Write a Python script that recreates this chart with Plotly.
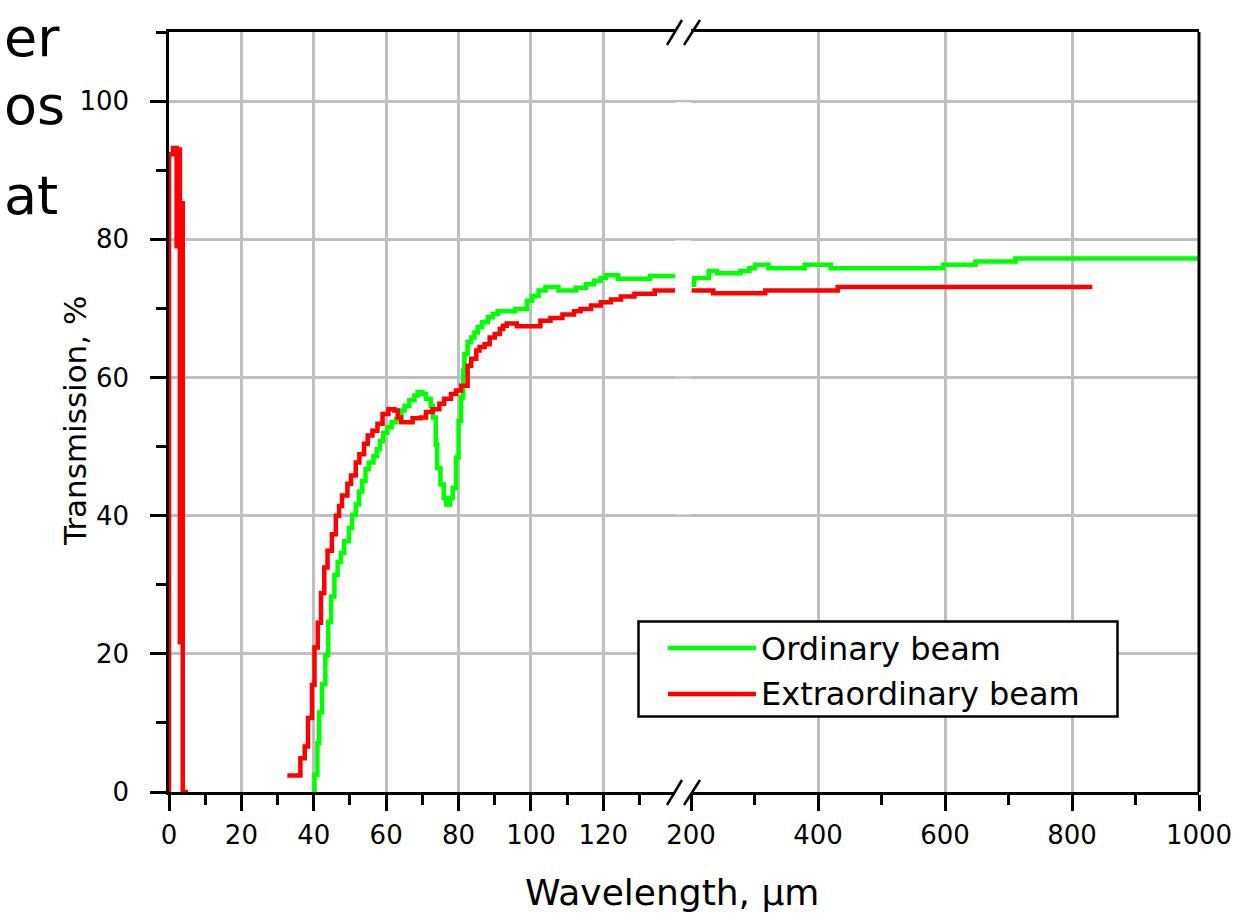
import plotly.graph_objects as go

# ---------------- data ----------------
x_left_ticks = [0, 20, 40, 60, 80, 100, 120]
x_right_ticks = [200, 400, 600, 800, 1000]
y_ticks = [0, 20, 40, 60, 80, 100]

# Ordinary beam (green)
ordinary_left_x = [40.0, 40.2, 41.0, 41.5, 42.3, 43.2, 44.0, 44.8, 45.7, 46.6, 47.5, 48.4, 49.7,
                   50.6, 51.6, 52.5, 53.4, 54.3, 55.2, 56.5, 57.4, 58.3, 59.2, 60.3, 61.5, 62.7,
                   64.2, 65.1, 66.4, 67.8, 68.7, 70.0, 71.0, 72.3, 72.9, 73.7, 74.1, 75.0, 75.9,
                   76.6, 77.7, 78.4, 79.3, 80.0, 80.7, 81.3, 81.6, 82.5, 83.5, 84.4, 85.3, 86.5,
                   88.1, 89.5, 90.8, 95.6, 98.9, 100.3, 102.1, 104.0, 107.6, 112.4, 115.2, 117.4,
                   119.3, 120.7, 124.0, 132.9, 139.8]
ordinary_left_y = [0.0, 2.5, 7.1, 11.5, 15.6, 19.8, 24.6, 28.3, 31.4, 33.3, 34.6, 36.3, 38.2,
                   40.1, 41.6, 43.5, 45.0, 46.7, 47.7, 48.6, 49.6, 50.8, 52.0, 52.8, 53.5, 54.0,
                   55.2, 55.9, 56.7, 57.4, 57.9, 57.6, 56.9, 55.9, 54.2, 50.3, 46.9, 44.5, 42.6,
                   41.6, 42.6, 44.0, 48.4, 53.7, 57.1, 61.0, 63.4, 65.1, 65.8, 66.5, 67.3, 68.0,
                   68.7, 69.2, 69.6, 69.9, 71.1, 71.8, 72.6, 73.1, 72.6, 73.0, 73.5, 74.0,
                   74.4, 74.8, 74.3, 74.7, 74.7]
ordinary_right_x = [201, 205, 228, 241, 278, 292, 301, 322, 379, 420, 597, 648, 711, 1000]
ordinary_right_y = [73.4, 74.4, 75.4, 75.1, 75.4, 75.8, 76.3, 75.8, 76.3, 75.8, 76.3, 76.8, 77.2, 77.2]

# Extraordinary beam (red)
extra_spike_x = [0, 0, 1.1, 2.1, 2.5, 3.0, 3.5, 3.8, 5.3]
extra_spike_y = [0, 92.3, 93.2, 79.0, 93.0, 21.7, 85.2, 0, 0]
extra_left_x = [32.7, 36.3, 37.5, 38.4, 39.5, 40.2, 41.1, 42.0, 42.9, 43.8, 45.0, 46.1, 47.0,
                47.8, 49.3, 50.3, 51.6, 52.6, 53.9, 54.9, 56.2, 57.6, 59.0, 60.6, 62.3, 63.2,
                64.1, 67.3, 69.6, 71.0, 72.8, 74.7, 76.0, 77.9, 79.3, 80.7, 82.5, 83.5, 84.9,
                85.8, 87.2, 88.6, 90.0, 91.4, 92.3, 93.3, 96.1, 102.6, 105.4, 108.7, 111.9,
                113.7, 116.6, 119.3, 122.1, 124.9, 128.6, 134.2, 139.8]
extra_left_y = [2.4, 4.9, 6.6, 10.7, 15.5, 20.9, 24.5, 28.8, 32.5, 34.9, 37.3, 40.0, 41.4,
                42.9, 44.6, 45.8, 47.7, 48.9, 50.4, 51.6, 52.3, 53.3, 54.7, 55.4, 55.2, 54.2,
                53.5, 54.1, 54.2, 55.0, 55.4, 56.2, 56.9, 57.6, 58.1, 58.8, 61.7, 62.7, 63.9,
                64.4, 64.8, 65.8, 66.3, 67.0, 67.5, 67.8, 67.4, 68.2, 68.6, 69.1, 69.6,
                69.9, 70.4, 70.9, 71.3, 71.7, 72.1, 72.6, 72.6]
extra_right_x = [201, 235, 317, 431, 832]
extra_right_y = [72.6, 72.2, 72.6, 73.1, 73.1]

# ---------------- geometry helpers (pixel -> paper) ----------------
W_FIG, H_FIG = 1251, 921
L, R, T, B = 169, 1199, 32, 792
PW, PH = R - L, B - T


def pxx(x):
    return (x - L) / PW


def pxy(y):
    return (B - y) / PH


GREEN = "#00ff00"
RED = "#ff0000"
GRID = "#bfbfbf"
FONT = "DejaVu Sans"
LW = 4.5

fig = go.Figure()

fig.add_trace(go.Scatter(x=ordinary_left_x, y=ordinary_left_y, xaxis="x", yaxis="y",
                         mode="lines", line=dict(color=GREEN, width=LW, shape="hv"),
                         name="Ordinary beam", showlegend=False))
fig.add_trace(go.Scatter(x=ordinary_right_x, y=ordinary_right_y, xaxis="x2", yaxis="y",
                         mode="lines", line=dict(color=GREEN, width=LW, shape="hv"),
                         name="Ordinary beam", showlegend=False))
fig.add_trace(go.Scatter(x=extra_spike_x + [None] + extra_left_x,
                         y=extra_spike_y + [None] + extra_left_y, xaxis="x", yaxis="y",
                         mode="lines", line=dict(color=RED, width=LW, shape="hv"),
                         connectgaps=False, name="Extraordinary beam", showlegend=False))
fig.add_trace(go.Scatter(x=extra_right_x, y=extra_right_y, xaxis="x2", yaxis="y",
                         mode="lines", line=dict(color=RED, width=LW, shape="hv"),
                         name="Extraordinary beam", showlegend=False))

tickfont = dict(family=FONT, size=26, color="black")
x_split_left = pxx(675)
x_split_right = pxx(691)

common_x = dict(showline=True, linecolor="black", linewidth=2.5, mirror=True,
                ticks="outside", ticklen=16, tickwidth=2.5, tickcolor="black",
                showgrid=True, gridcolor=GRID, gridwidth=2.5, zeroline=False,
                tickfont=tickfont, ticklabelstandoff=2, layer="below traces")

fig.update_layout(
    width=W_FIG, height=H_FIG,
    margin=dict(l=L, r=W_FIG - R, t=T, b=H_FIG - B, pad=0),
    paper_bgcolor="white", plot_bgcolor="white",
    showlegend=False,
    xaxis=dict(domain=[0, x_split_left], range=[0, 139.8], anchor="y",
               tickmode="array", tickvals=x_left_ticks,
               minor=dict(ticks="outside", ticklen=10, tickwidth=2.5, tickcolor="black",
                          tick0=0, dtick=10, showgrid=False),
               **common_x),
    xaxis2=dict(domain=[x_split_right, 1], range=[200, 1000], anchor="y",
                tickmode="array", tickvals=x_right_ticks,
                minor=dict(ticks="outside", ticklen=10, tickwidth=2.5, tickcolor="black",
                           tick0=0, dtick=100, showgrid=False),
                **common_x),
    yaxis=dict(domain=[0, 1], range=[0, 110], anchor="x",
               tickmode="array", tickvals=y_ticks,
               showline=True, linecolor="black", linewidth=2.5, mirror=False,
               ticks="outside", ticklen=16, tickwidth=2.5, tickcolor="black",
               minor=dict(ticks="outside", ticklen=10, tickwidth=2.5, tickcolor="black",
                          tick0=0, dtick=10, showgrid=False),
               showgrid=True, gridcolor=GRID, gridwidth=2.5, zeroline=False,
               tickfont=tickfont, ticklabelstandoff=16, layer="below traces"),
)

shapes = []
# horizontal gridlines continued across the axis break
for v in y_ticks[1:]:
    shapes.append(dict(type="line", xref="paper", yref="y", x0=x_split_left, x1=x_split_right,
                       y0=v, y1=v, line=dict(color=GRID, width=2.5), layer="below"))
# right border
shapes.append(dict(type="line", xref="paper", yref="paper", x0=1, x1=1, y0=0, y1=1,
                   line=dict(color="black", width=3), layer="above"))
# axis-break marks (//) at bottom and top
for yb, yt in [(805, 780), (45, 20)]:
    for xa, xb in [(667, 682), (684, 700)]:
        shapes.append(dict(type="line", xref="paper", yref="paper",
                           x0=pxx(xa), y0=pxy(yb), x1=pxx(xb), y1=pxy(yt),
                           line=dict(color="black", width=2.5), layer="above"))
# legend box and samples
shapes.append(dict(type="rect", xref="paper", yref="paper",
                   x0=pxx(638.5), x1=pxx(1117.5), y0=pxy(716.5), y1=pxy(621.5),
                   line=dict(color="black", width=2.5), fillcolor="white", layer="above"))
shapes.append(dict(type="line", xref="paper", yref="paper", x0=pxx(668), x1=pxx(756),
                   y0=pxy(648), y1=pxy(648), line=dict(color=GREEN, width=LW), layer="above"))
shapes.append(dict(type="line", xref="paper", yref="paper", x0=pxx(668), x1=pxx(756),
                   y0=pxy(694), y1=pxy(694), line=dict(color=RED, width=LW), layer="above"))

annotations = [
    dict(text="Ordinary beam", xref="paper", yref="paper", x=pxx(759), y=pxy(649),
         xanchor="left", yanchor="middle", showarrow=False,
         font=dict(family=FONT, size=32, color="black")),
    dict(text="Extraordinary beam", xref="paper", yref="paper", x=pxx(759), y=pxy(694),
         xanchor="left", yanchor="middle", showarrow=False,
         font=dict(family=FONT, size=32, color="black")),
    dict(text="Wavelength, µm", xref="paper", yref="paper", x=pxx(672), y=pxy(893),
         xanchor="center", yanchor="middle", showarrow=False,
         font=dict(family=FONT, size=36, color="black")),
    dict(text="Transmission, %", xref="paper", yref="paper", x=pxx(75), y=pxy(421),
         xanchor="center", yanchor="middle", showarrow=False, textangle=-90,
         font=dict(family=FONT, size=31, color="black")),
    # fragments of slide text at the left edge
    dict(text="er", xref="paper", yref="paper", x=pxx(2), y=pxy(4),
         xanchor="left", yanchor="top", showarrow=False,
         font=dict(family=FONT, size=54, color="black")),
    dict(text="os", xref="paper", yref="paper", x=pxx(2), y=pxy(72),
         xanchor="left", yanchor="top", showarrow=False,
         font=dict(family=FONT, size=54, color="black")),
    dict(text="at", xref="paper", yref="paper", x=pxx(2), y=pxy(162),
         xanchor="left", yanchor="top", showarrow=False,
         font=dict(family=FONT, size=54, color="black")),
]

fig.update_layout(shapes=shapes, annotations=annotations)

fig.write_html("out.html")
